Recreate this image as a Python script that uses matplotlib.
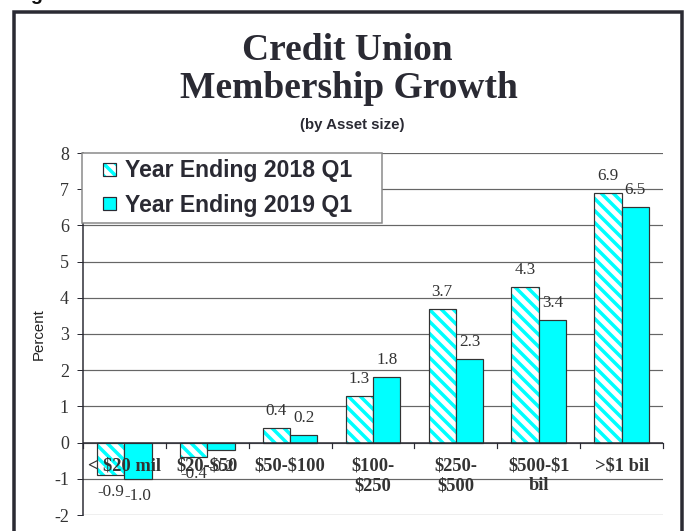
import matplotlib
matplotlib.use("Agg")
import matplotlib.pyplot as plt
from matplotlib.patches import Rectangle, Patch
from matplotlib.legend_handler import HandlerPatch, HandlerTuple
import numpy as np

categories = ["< $20 mil", "$20-$50", "$50-$100", "$100-\n$250",
              "$250-\n$500", "$500-$1\nbil", ">$1 bil"]
growth_2018 = [-0.9, -0.4, 0.4, 1.3, 3.7, 4.3, 6.9]
growth_2019 = [-1.0, -0.2, 0.2, 1.8, 2.3, 3.4, 6.5]
series_names = ["Year Ending 2018 Q1", "Year Ending 2019 Q1"]

CYAN = "#00ffff"
DARK = "#2a2a33"
SERIF = "Liberation Serif"
SANS = "Liberation Sans"

plt.rcParams["hatch.linewidth"] = 3.5

W, H, DPI = 684, 531, 72
fig = plt.figure(figsize=(W / DPI, H / DPI), dpi=DPI)

def px(x, y):
    return x / W, 1 - y / H

# outer frame of the exhibit
fig.patches.append(Rectangle((13.5 / W, -0.1), (682 - 13.5) / W, 1.1 - 12.5 / H,
                             transform=fig.transFigure, fill=False,
                             edgecolor=DARK, linewidth=3.5))
fig.text(14 / W, 1.0, "Fig", fontsize=20, fontweight="bold", family=SANS,
         color="#111111", va="baseline", ha="left")

x0, y0 = px(83, 515)
x1, y1 = px(663, 153)
ax = fig.add_axes([x0, y0, x1 - x0, y1 - y0])

x = np.arange(len(categories))
w = 0.33

# hatched bars: white fill with cyan stripes, then a dark outline on top
ax.bar(x - w / 2, growth_2018, w, color="white", edgecolor=CYAN, hatch="\\\\",
       linewidth=0, zorder=3)
ax.bar(x - w / 2, growth_2018, w, fill=False, edgecolor="#333333",
       linewidth=1.2, zorder=4)
ax.bar(x + w / 2, growth_2019, w, color=CYAN, edgecolor="#333333",
       linewidth=1.2, zorder=4)

for xs, vals in ((x - w / 2, growth_2018), (x + w / 2, growth_2019)):
    for xi, v in zip(xs, vals):
        off = 17 if v >= 0 else -17
        ax.annotate(f"{v:.1f}", (xi, v), xytext=(0, off),
                    textcoords="offset points", ha="center", va="center",
                    fontsize=17, family=SERIF, color="#333333", zorder=6)

# category labels sit just under the zero line
for xi, lab in zip(x, categories):
    ax.annotate(lab, (xi, 0), xytext=(0, -15), textcoords="offset points",
                ha="center", va="top", fontsize=18.5, fontweight="bold",
                family=SERIF, color="#333333", linespacing=1.2, zorder=7,
                parse_math=False)

ax.set_xlim(-0.5, len(categories) - 0.5)
ax.set_ylim(-2, 8)
ax.set_yticks(range(-2, 9))
ax.set_yticklabels([str(t) for t in range(-2, 9)], family=SERIF, fontsize=18,
                   color="#333333")
ax.tick_params(axis="y", length=6, width=1, color=DARK, direction="out", pad=8)
ax.set_xticks([])
ax.grid(axis="y", color="#666666", linewidth=1.2, zorder=0)

for s in ("top", "right", "bottom"):
    ax.spines[s].set_visible(False)
ax.spines["left"].set_color(DARK)
ax.spines["left"].set_linewidth(1.5)

# zero line with boundary ticks between groups
ax.axhline(0, color=DARK, linewidth=1.5, zorder=5)
for b in np.arange(-0.5, len(categories), 1.0):
    ax.plot([b, b], [0, -0.14], color=DARK, linewidth=1.2, zorder=5,
            clip_on=False)

ax.set_ylabel("Percent", family=SANS, fontsize=15, color="#222222", labelpad=8)

fig.text(347 / W, 1 - 51 / H, "Credit Union", ha="center", va="center",
         fontsize=37.5, fontweight="bold", family=SERIF, color=DARK)
fig.text(349 / W, 1 - 89 / H, "Membership Growth", ha="center", va="center",
         fontsize=37.5, fontweight="bold", family=SERIF, color=DARK)
fig.text(352 / W, 1 - 125 / H, "(by Asset size)", ha="center", va="center",
         fontsize=15, fontweight="bold", family=SANS, color=DARK)


def square(legend, orig_handle, xdescent, ydescent, width, height, fontsize):
    s = 13
    return Rectangle((width - s - xdescent, (height - s) / 2 - ydescent), s, s)


handles = [(Patch(facecolor="white", edgecolor=CYAN, hatch="\\\\", linewidth=0),
            Patch(fill=False, edgecolor=DARK, linewidth=1.2)),
           Patch(facecolor=CYAN, edgecolor=DARK, linewidth=1.2)]
lx, ly = px(82, 224)
leg = ax.legend(handles, series_names, loc="upper left", mode="expand",
                bbox_to_anchor=(lx, ly, 300 / W, 71 / H),
                bbox_transform=fig.transFigure, borderaxespad=0,
                prop={"family": SANS, "weight": "bold", "size": 23},
                handlelength=1.2, handleheight=0.7, handletextpad=0.4,
                labelspacing=0.5, borderpad=0.28, fancybox=False,
                edgecolor="#888888", framealpha=1,
                handler_map={Patch: HandlerPatch(patch_func=square),
                             tuple: HandlerTuple(ndivide=1, pad=0)})
leg.get_frame().set_linewidth(1.5)
for t in leg.get_texts():
    t.set_color("#2a2a33")
leg.set_zorder(10)

fig.savefig("out.png", dpi=DPI)
